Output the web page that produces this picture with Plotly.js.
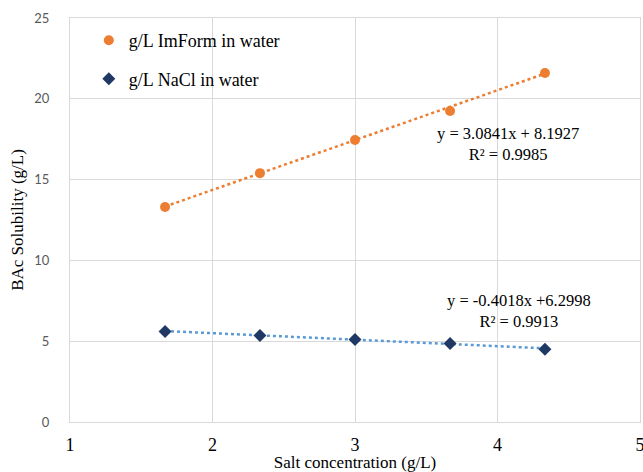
<!DOCTYPE html>
<html>
<head>
<meta charset="utf-8">
<script src="https://cdn.plot.ly/plotly-3.0.1.min.js"></script>
<style>html,body{margin:0;padding:0;background:#fff;}#chart{width:643px;height:472px;}</style>
</head>
<body>
<div id="chart"></div>
<script>
var saltConc = [1.667, 2.333, 3.0, 3.667, 4.333];
var imformSol = [13.3, 15.4, 17.45, 19.25, 21.6];
var naclSol = [5.6, 5.35, 5.1, 4.85, 4.5];
var imformFit = {slope: 3.0841, intercept: 8.1927, r2: "0.9985"};
var naclFit = {slope: -0.4018, intercept: 6.2998, r2: "0.9913"};
var xTicks = [1, 2, 3, 4, 5];
var yTicks = [0, 5, 10, 15, 20, 25];

var serif = "Liberation Serif, Times New Roman, serif";
var xEnds = [saltConc[0], saltConc[saltConc.length - 1]];
function fitLine(f) { return xEnds.map(function (x) { return f.slope * x + f.intercept; }); }

var traces = [
  {x: xEnds, y: fitLine(imformFit), mode: "lines", showlegend: false, hoverinfo: "skip",
   line: {color: "#ED7D31", width: 2.5, dash: "dot"}},
  {x: xEnds, y: fitLine(naclFit), mode: "lines", showlegend: false, hoverinfo: "skip",
   line: {color: "#5B9BD5", width: 2.5, dash: "dot"}},
  {x: saltConc, y: imformSol, mode: "markers", name: "g/L ImForm in water", legendgroup: "a",
   marker: {symbol: "circle", size: 10, color: "#ED7D31"}},
  {x: saltConc, y: naclSol, mode: "markers", name: "g/L NaCl in water", legendgroup: "b",
   marker: {symbol: "diamond", size: 10, color: "#1F3864"}}
];

var layout = {
  width: 643, height: 472,
  margin: {l: 70, r: 3, t: 18, b: 50},
  paper_bgcolor: "#fff", plot_bgcolor: "#fff",
  showlegend: true,
  legend: {x: 0.033, y: 0.99, xanchor: "left", yanchor: "top", bgcolor: "rgba(0,0,0,0)",
           font: {family: serif, size: 18, color: "#000"}, tracegroupgap: 12, itemwidth: 30},
  xaxis: {range: [1, 5], tickvals: xTicks, ticktext: xTicks.map(String),
          showgrid: true, gridcolor: "#d9d9d9", gridwidth: 1, zeroline: false,
          showline: true, linecolor: "#d9d9d9", linewidth: 1, mirror: true,
          ticks: "outside", ticklen: 6, tickcolor: "rgba(0,0,0,0)",
          ticklabeloverflow: "allow", automargin: false,
          tickfont: {family: serif, size: 18, color: "#000"},
          title: {text: "Salt concentration (g/L)", font: {family: serif, size: 17, color: "#000"}, standoff: 0}},
  yaxis: {range: [0, 25], tickvals: yTicks, ticktext: yTicks.map(String),
          showgrid: true, gridcolor: "#d9d9d9", gridwidth: 1, zeroline: false,
          showline: true, linecolor: "#d9d9d9", linewidth: 1, mirror: true,
          ticks: "outside", ticklen: 17, tickcolor: "rgba(0,0,0,0)",
          automargin: false,
          tickfont: {family: "Lato, Open Sans, sans-serif", size: 13, color: "#595959"},
          title: {text: "BAc Solubility (g/L)", font: {family: serif, size: 17, color: "#000"}, standoff: 6}},
  annotations: [
    {xref: "paper", yref: "paper", xanchor: "center", yanchor: "middle",
     x: (508 - 70) / 570, y: (422 - 144) / 404, showarrow: false,
     align: "center", font: {family: serif, size: 16.5, color: "#000"},
     text: "y = " + imformFit.slope.toFixed(4) + "x + " + imformFit.intercept.toFixed(4) + "<br>R² = " + imformFit.r2},
    {xref: "paper", yref: "paper", xanchor: "center", yanchor: "middle",
     x: (519 - 70) / 570, y: (422 - 311) / 404, showarrow: false,
     align: "center", font: {family: serif, size: 16.5, color: "#000"},
     text: "y = " + naclFit.slope.toFixed(4) + "x +" + naclFit.intercept.toFixed(4) + "<br>R² = " + naclFit.r2}
  ]
};

Plotly.newPlot("chart", traces, layout, {displayModeBar: false, staticPlot: true});
</script>
</body>
</html>
